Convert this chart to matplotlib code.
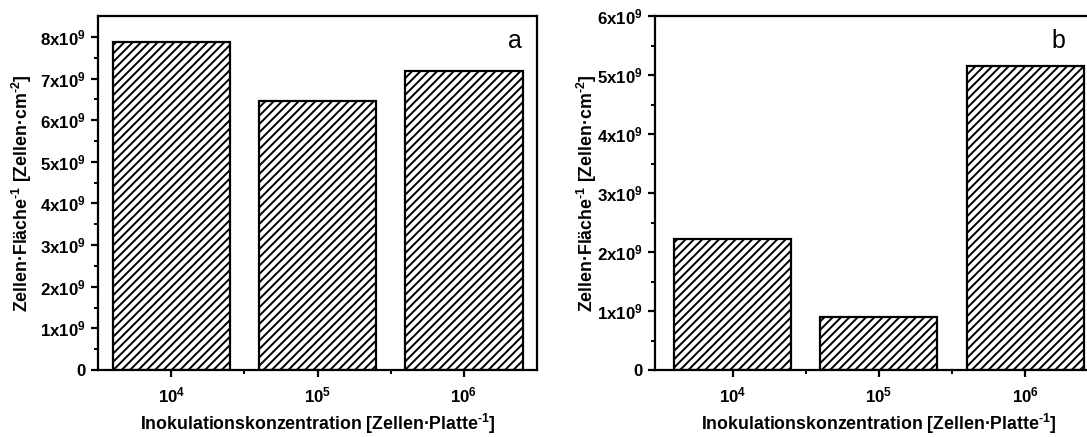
import numpy as np
import matplotlib.pyplot as plt

# Data
categories = ['$\\mathbf{10^4}$', '$\\mathbf{10^5}$', '$\\mathbf{10^6}$']
values_a = [7.87e9, 6.46e9, 7.17e9]
values_b = [2.22e9, 0.90e9, 5.15e9]

plt.rcParams['font.family'] = 'Liberation Sans'
plt.rcParams['font.weight'] = 'bold'
plt.rcParams['mathtext.fontset'] = 'custom'
plt.rcParams['mathtext.rm'] = 'Liberation Sans:bold'
plt.rcParams['mathtext.bf'] = 'Liberation Sans:bold'
plt.rcParams['mathtext.default'] = 'bf'
plt.rcParams['hatch.linewidth'] = 1.4

fig = plt.figure(figsize=(10.87, 4.37), dpi=100)
ax_a = fig.add_axes([0.0902, 0.1533, 0.404, 0.810])
ax_b = fig.add_axes([0.6026, 0.1533, 0.412, 0.810])


def ylabel_fmt(v, pos):
    if v == 0:
        return '0'
    return '%dx10$^{9}$' % round(v / 1e9)


def draw(ax, vals, ymax, letter, xlim, letter_x, ylab_x):
    x = np.arange(len(vals))
    ax.bar(x, vals, width=0.8, color='white', edgecolor='black',
           linewidth=1.6, hatch='////')
    ax.set_xlim(*xlim)
    ax.set_ylim(0, ymax)
    ax.set_xticks(x)
    ax.set_xticklabels(categories)
    ax.set_xticks(x[:-1] + 0.5, minor=True)
    ax.set_yticks(np.arange(0, ymax + 1, 1e9))
    ax.set_yticks(np.arange(0.5e9, ymax, 1e9), minor=True)
    ax.yaxis.set_major_formatter(plt.FuncFormatter(ylabel_fmt))
    ax.tick_params(which='major', direction='out', length=5, width=1.6,
                   labelsize=12.2, pad=4)
    ax.tick_params(which='minor', direction='out', length=3, width=1.4)
    ax.tick_params(axis='x', which='major', pad=6)
    for s in ax.spines.values():
        s.set_linewidth(1.6)
    ax.set_xlabel('Inokulationskonzentration [Zellen\u00b7Platte$^{\\text{-}1}$]',
                  fontsize=12.8, fontweight='bold', labelpad=5)
    ax.set_ylabel('Zellen\u00b7Fl\u00e4che$^{\\text{-}1}$ [Zellen\u00b7cm$^{\\text{-}2}$]',
                  fontsize=12.8, fontweight='bold')
    ax.yaxis.set_label_coords(ylab_x, 0.5)
    ax.text(letter_x, 0.93, letter, transform=ax.transAxes, fontsize=18,
            fontweight='normal', ha='center', va='center')


draw(ax_a, values_a, 8.5e9, 'a', (-0.5, 2.5), 0.95, -0.145)
draw(ax_b, values_b, 6e9, 'b', (-0.53, 2.53), 0.90, -0.124)

fig.savefig('out.png', dpi=100)
